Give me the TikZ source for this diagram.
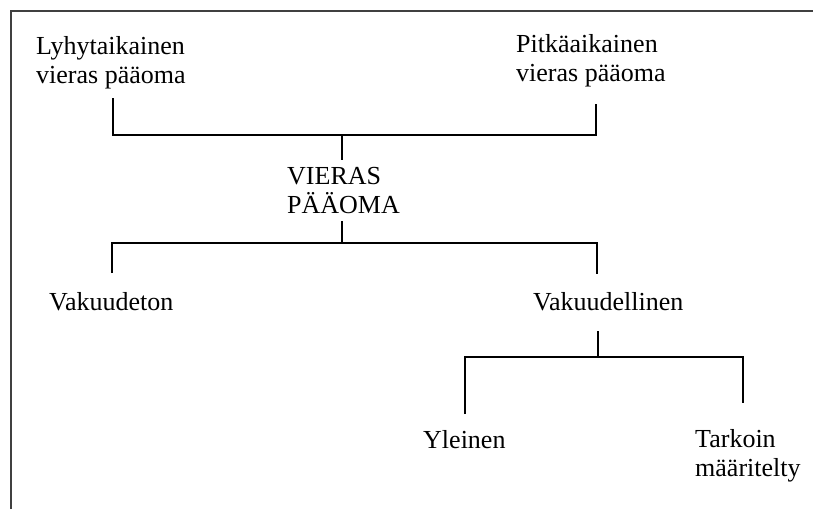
\documentclass[tikz,border=0pt]{standalone}
\usepackage{fontspec}
\setmainfont{Liberation Serif}
\usepackage{tikz}
\tikzset{
	labl/.style={anchor=north west,inner sep=0pt,align=left,font=\fontsize{26}{29}\selectfont},
	branch/.style={line width=1.3pt,draw=black},
	frame/.style={line width=2.5pt,draw=black!75},
	}

\begin{document}
\begin{tikzpicture}[x=1pt,y=-1pt]
\useasboundingbox (0,0) rectangle (813,509);
 \draw[frame] (11,509) -- (11,11) -- (813,11);

\node (lyhyt) at (36,36) [labl] {Lyhytaikainen\\vieras pääoma} ;
\node (pitka) at (516,34) [labl] {Pitkäaikainen\\vieras pääoma} ;
\node (vieras) at (287,167) [labl] {VIERAS\\PÄÄOMA} ;
\node (vakton) at (49,292) [labl] {Vakuudeton} ;
\node (vaklinen) at (533,292) [labl] {Vakuudellinen} ;
\node (yleinen) at (423,430) [labl] {Yleinen} ;
\node (tarkoin) at (695,429) [labl] {Tarkoin\\määritelty} ;

\coordinate (s1) at (113,98);
\coordinate (s2) at (596,104);
\coordinate (j1) at (342,135);
\coordinate (s3) at (342,160);
\coordinate (s4) at (342,221);
\coordinate (j2) at (342,243);
\coordinate (s5) at (112,273);
\coordinate (s6) at (597,274);
\coordinate (s7) at (598,331);
\coordinate (j3) at (598,357);
\coordinate (s8) at (465,414);
\coordinate (s9) at (743,403);

 \draw[branch] (s1) |- (j1) -| (s2);
 \draw[branch] (j1) -- (s3);
 \draw[branch] (s4) -- (j2);
 \draw[branch] (s5) |- (j2) -| (s6);
 \draw[branch] (s7) -- (j3);
 \draw[branch] (s8) |- (j3) -| (s9);
\end{tikzpicture}
\end{document}
